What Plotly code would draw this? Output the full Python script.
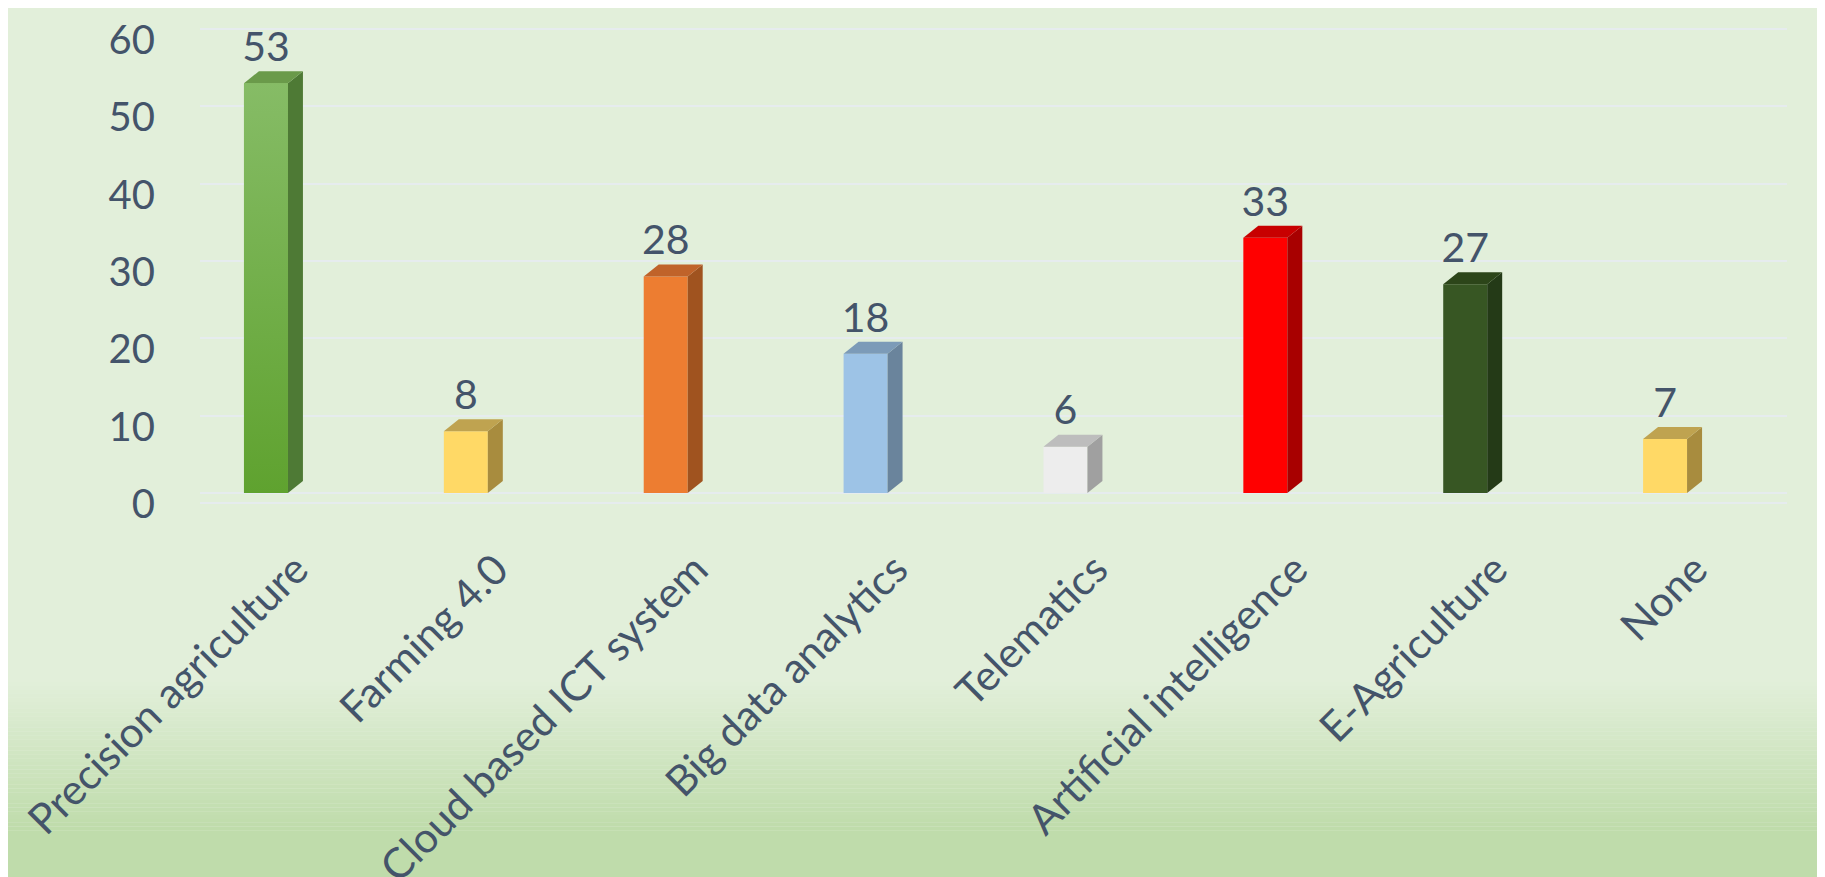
import plotly.graph_objects as go

categories = ["Precision agriculture", "Farming 4.0", "Cloud based ICT system",
              "Big data analytics", "Telematics", "Artificial intelligence",
              "E-Agriculture", "None"]
values = [53, 8, 28, 18, 6, 33, 27, 7]
y_ticks = [0, 10, 20, 30, 40, 50, 60]

front_colors = ["#72AF45", "#FFD966", "#ED7D31", "#9DC3E6", "#EDEDED", "#FF0000", "#375623", "#FFD966"]
top_colors = ["#6A9A4A", "#BFA350", "#C0632A", "#7C9BB8", "#BDBDBD", "#C80000", "#2C4519", "#BFA350"]
side_colors = ["#4E7A35", "#A88C3E", "#A0531F", "#6A849C", "#A0A0A0", "#A80000", "#243A17", "#A88C3E"]

TEXT = "#44546A"
FONT = "Lato"
W = 0.22   # bar width (category units)
DX = 0.075  # depth offset, x
DY = 1.55   # depth offset, y

fig = go.Figure()

# background gradient below plot area
n = 40
y0, y1 = -0.36, -0.67
c0, c1 = (226, 239, 218), (191, 220, 171)
for k in range(n):
    t = k / (n - 1)
    col = tuple(round(a + (b - a) * t) for a, b in zip(c0, c1))
    fig.add_shape(type="rect", xref="paper", yref="paper", layer="below",
                  x0=-0.2, x1=1.1, y0=y0 + (y1 - y0) * k / n, y1=y0 + (y1 - y0) * (k + 1) / n,
                  fillcolor="rgb(%d,%d,%d)" % col, line_width=0)
fig.add_shape(type="rect", xref="paper", yref="paper", layer="below",
              x0=-0.2, x1=1.1, y0=y1, y1=-0.9, fillcolor="rgb(%d,%d,%d)" % c1, line_width=0)

xs = list(range(len(categories)))

for i, v in enumerate(values):
    xl, xr = i - W / 2, i + W / 2
    # side face
    fig.add_trace(go.Scatter(x=[xr, xr + DX, xr + DX, xr, xr], y=[0, DY, v + DY, v, 0],
                             fill="toself", fillcolor=side_colors[i], mode="lines",
                             line=dict(width=0), hoverinfo="skip", showlegend=False))
    # top face
    fig.add_trace(go.Scatter(x=[xl, xl + DX, xr + DX, xr, xl], y=[v, v + DY, v + DY, v, v],
                             fill="toself", fillcolor=top_colors[i], mode="lines",
                             line=dict(width=0), hoverinfo="skip", showlegend=False))

fig.add_trace(go.Bar(x=xs, y=values, width=W, marker=dict(color=front_colors, line_width=0),
                     showlegend=False, hoverinfo="x+y"))

# gradient front for the first bar
v = values[0]
fig.add_trace(go.Scatter(x=[-W / 2, W / 2, W / 2, -W / 2, -W / 2], y=[0, 0, v, v, 0],
                         fill="toself", mode="lines", line=dict(width=0),
                         fillgradient=dict(type="vertical",
                                           colorscale=[[0, "#5FA22F"], [1, "#86BC66"]]),
                         hoverinfo="skip", showlegend=False))

fig.add_trace(go.Scatter(x=xs, y=[v + DY for v in values], mode="text",
                         text=[str(v) for v in values], textposition="top center",
                         textfont=dict(size=41, color=TEXT, family=FONT),
                         hoverinfo="skip", showlegend=False))

fig.update_layout(
    width=1825, height=877,
    margin=dict(l=192, r=46, t=4, b=383),
    paper_bgcolor="#E2EFDA", plot_bgcolor="rgba(0,0,0,0)",
    font=dict(family=FONT, color=TEXT, size=38),
    bargap=0.78,
)
fig.update_xaxes(range=[-0.33, 7.61], tickvals=xs, ticktext=categories, tickangle=-45,
                 showgrid=False, zeroline=False, showline=True, linecolor="#E6ECEE", linewidth=2,
                 tickfont=dict(size=42, color=TEXT, family=FONT), ticks="", automargin=False,
                 ticklabelshift=30, ticklabelstandoff=24)
fig.update_yaxes(range=[-1.16, 62.2], tickvals=y_ticks, showgrid=True, gridcolor="#E6ECEE",
                 gridwidth=2, zeroline=False, ticklabelshift=11, ticklabelstandoff=44,
                 ticklabeloverflow="allow", automargin=False,
                 tickfont=dict(size=40, color=TEXT, family=FONT), ticks="")

fig.write_html("out.html")
